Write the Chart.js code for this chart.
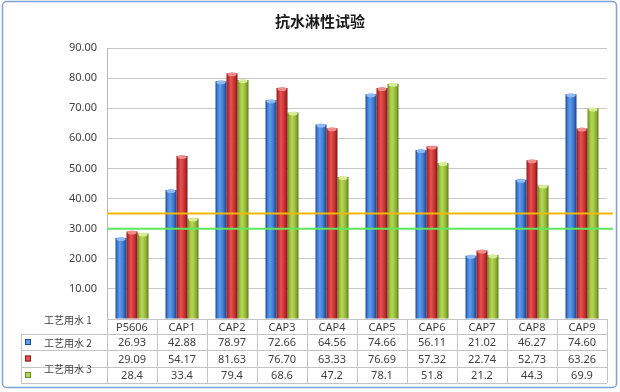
<!DOCTYPE html>
<html>
<head>
<meta charset="utf-8">
<script src="https://cdn.jsdelivr.net/npm/chart.js@4"></script>
<style>
  html, body { margin: 0; padding: 0; background: #fff; }
  #wrap { width: 620px; height: 392px; }
</style>
</head>
<body>
<div id="wrap"><canvas id="myChart" width="620" height="392"></canvas></div>
<script>
const categories = ['P5606', 'CAP1', 'CAP2', 'CAP3', 'CAP4', 'CAP5', 'CAP6', 'CAP7', 'CAP8', 'CAP9'];
const seriesNames = ['工艺用水 1', '工艺用水 2', '工艺用水 3'];
const water1 = [26.93, 42.88, 78.97, 72.66, 64.56, 74.66, 56.11, 21.02, 46.27, 74.60];
const water2 = [29.09, 54.17, 81.63, 76.70, 63.33, 76.69, 57.32, 22.74, 52.73, 63.26];
const water3 = [28.4, 33.4, 79.4, 68.6, 47.2, 78.1, 51.8, 21.2, 44.3, 69.9];
const tableDecimals = [2, 2, 1];
const yMax = 90;
const yStep = 10;
const limitYellow = 35;
const limitGreen = 30;

const allSeries = [water1, water2, water3];
const CAT_PCT = 0.66;

// colour ramps for the "cylinder" look: dark edge, light centre, dark edge
const ramps = [
    ['#1d4a94', '#3f7fd6', '#5f9cec', '#3a74c8', '#1a3f82'],
    ['#8e1a1a', '#c93434', '#e45454', '#c42e2e', '#7e1616'],
    ['#6a8a1c', '#98bb36', '#b8d85c', '#93b533', '#5f7c18']
];
const capColors = ['#8fbaf4', '#f08c8c', '#d6ec96'];

function barFill(context) {
    const chart = context.chart;
    const ramp = ramps[context.datasetIndex];
    if (!chart.chartArea) return ramp[2];
    const xs = chart.scales.x;
    const bw = (xs.width / categories.length) * CAT_PCT / 3;
    const cx = xs.getPixelForValue(context.dataIndex) + (context.datasetIndex - 1) * bw;
    const g = chart.ctx.createLinearGradient(cx - bw / 2, 0, cx + bw / 2, 0);
    g.addColorStop(0, ramp[0]);
    g.addColorStop(0.2, ramp[1]);
    g.addColorStop(0.4, ramp[2]);
    g.addColorStop(0.75, ramp[3]);
    g.addColorStop(1, ramp[4]);
    return g;
}

// outer frame
const framePlugin = {
    id: 'frame',
    beforeDraw(chart) {
        const c = chart.ctx;
        c.save();
        c.strokeStyle = '#7fa3d8';
        c.lineWidth = 1.5;
        c.beginPath();
        c.roundRect(2.5, 1.5, 614, 386, 4);
        c.stroke();
        c.restore();
    }
};

// bar tops + limit lines
const extrasPlugin = {
    id: 'extras',
    afterDatasetsDraw(chart) {
        const c = chart.ctx;
        c.save();
        chart.data.datasets.forEach((ds, di) => {
            chart.getDatasetMeta(di).data.forEach(bar => {
                c.fillStyle = capColors[di];
                c.beginPath();
                c.ellipse(bar.x, bar.y + 1, bar.width / 2 - 1, 2, 0, 0, Math.PI * 2);
                c.fill();
            });
        });
        const ys = chart.scales.y;
        const area = chart.chartArea;
        [[limitYellow, '#f2b705'], [limitGreen, '#5ee85e']].forEach(([v, col]) => {
            const y = ys.getPixelForValue(v);
            c.strokeStyle = col;
            c.lineWidth = 2;
            c.beginPath();
            c.moveTo(area.left, y);
            c.lineTo(613, y);
            c.stroke();
        });
        c.restore();
    }
};

// data table under the plot
const tablePlugin = {
    id: 'dataTable',
    afterDraw(chart) {
        const c = chart.ctx;
        const area = chart.chartArea;
        const xs = chart.scales.x;
        const colW = xs.width / categories.length;
        const top = area.bottom;
        const rowLines = [top, top + 15, top + 31, top + 48, top + 64];
        const tableLeft = 21;
        c.save();
        c.strokeStyle = '#c4c4c4';
        c.lineWidth = 1;
        c.beginPath();
        for (let i = 0; i <= categories.length; i++) {
            const x = Math.round(area.left + i * colW) + 0.5;
            c.moveTo(x, top);
            c.lineTo(x, rowLines[4]);
        }
        c.moveTo(area.left, rowLines[0] + 0.5);
        c.lineTo(area.right, rowLines[0] + 0.5);
        for (let r = 1; r < rowLines.length; r++) {
            c.moveTo(tableLeft, rowLines[r] + 0.5);
            c.lineTo(area.right, rowLines[r] + 0.5);
        }
        c.moveTo(tableLeft + 0.5, rowLines[1]);
        c.lineTo(tableLeft + 0.5, rowLines[4]);
        c.stroke();

        c.fillStyle = '#404040';
        c.textAlign = 'center';
        c.textBaseline = 'middle';
        c.font = '11px "Noto Sans", sans-serif';
        categories.forEach((cat, i) => {
            const cx = xs.getPixelForValue(i);
            c.fillText(cat, cx, (rowLines[0] + rowLines[1]) / 2 + 1);
            allSeries.forEach((s, r) => {
                c.fillText(s[i].toFixed(tableDecimals[r]), cx, (rowLines[r + 1] + rowLines[r + 2]) / 2 + 1);
            });
        });

        // row legend markers
        allSeries.forEach((s, r) => {
            const cy = (rowLines[r + 1] + rowLines[r + 2]) / 2;
            c.fillStyle = ramps[r][2];
            c.fillRect(25, cy - 3, 6, 6);
            c.strokeStyle = ramps[r][0];
            c.strokeRect(25.5, cy - 2.5, 5, 5);
        });

        // series names, placed as in the original sheet
        c.fillStyle = '#404040';
        c.textAlign = 'left';
        c.font = '10px "Noto Sans CJK SC", sans-serif';
        c.fillText(seriesNames[0], 44, top + 1);
        c.fillText(seriesNames[1], 44, (rowLines[1] + rowLines[2]) / 2 + 1);
        c.fillText(seriesNames[2], 44, rowLines[3] + 2);
        c.restore();
    }
};

const ctx = document.getElementById('myChart').getContext('2d');

const myChart = new Chart(ctx, {
    type: 'bar',
    data: {
        labels: categories,
        datasets: allSeries.map((s, i) => ({
            label: seriesNames[i],
            data: s,
            backgroundColor: barFill,
            borderWidth: 0,
            categoryPercentage: CAT_PCT,
            barPercentage: 1
        }))
    },
    options: {
        responsive: false,
        animation: false,
        layout: {
            padding: { left: 33, right: 13, top: 0, bottom: 65 }
        },
        scales: {
            x: {
                grid: { display: false },
                ticks: { display: false },
                border: { display: true, color: '#c4c4c4' }
            },
            y: {
                min: 0,
                max: yMax,
                afterFit(scale) { scale.width = 74; },
                ticks: {
                    stepSize: yStep,
                    padding: 10,
                    color: '#404040',
                    font: { family: '"Noto Sans", sans-serif', size: 11 },
                    callback: function(value) {
                        return value === 0 ? '' : value.toFixed(2);
                    }
                },
                grid: { color: '#c8c8c8', drawTicks: false },
                border: { color: '#b8b8b8' }
            }
        },
        plugins: {
            legend: { display: false },
            tooltip: { enabled: false },
            title: {
                display: true,
                text: '抗水淋性试验',
                color: '#1a1a1a',
                font: { family: '"Noto Sans CJK SC", sans-serif', size: 15, weight: 'bold' },
                padding: { top: 12, bottom: 18 }
            }
        }
    },
    plugins: [framePlugin, extrasPlugin, tablePlugin]
});
</script>
</body>
</html>
